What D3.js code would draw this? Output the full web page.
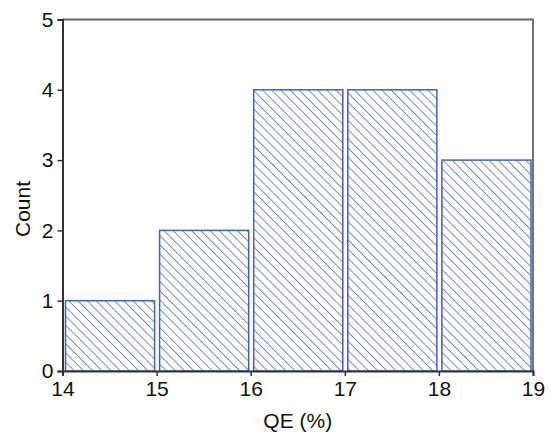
<!DOCTYPE html>
<html>
<head>
<meta charset="utf-8">
<script src="https://cdn.jsdelivr.net/npm/d3@7"></script>
<style>
  body { margin: 0; background: #fff; }
  text { font-family: Arial, "Liberation Sans", sans-serif; }
</style>
</head>
<body>
<div id="chart"></div>
<script>
// histogram bins (QE %) and counts
const binStarts = [14, 15, 16, 17, 18];
const binEnds = [15, 16, 17, 18, 19];
const counts = [1, 2, 4, 4, 3];
const xTicks = [14, 15, 16, 17, 18, 19];
const yTicks = [0, 1, 2, 3, 4, 5];

const margin = {top: 19.5, right: 18, bottom: 62, left: 62.5};
const width = 551 - margin.left - margin.right;
const height = 433 - margin.top - margin.bottom;

const svg = d3.select("#chart")
    .append("svg")
    .attr("width", 551)
    .attr("height", 433);

// diagonal hatch like the original
svg.append("defs").append("pattern")
    .attr("id", "hatch")
    .attr("patternUnits", "userSpaceOnUse")
    .attr("width", 6.5)
    .attr("height", 6.5)
    .attr("patternTransform", "rotate(-45)")
    .append("line")
    .attr("x1", 0.5).attr("y1", 0)
    .attr("x2", 0.5).attr("y2", 6.5)
    .attr("stroke", "#5a76d2")
    .attr("stroke-width", 0.85);

const g = svg.append("g")
    .attr("transform", `translate(${margin.left},${margin.top})`);

const x = d3.scaleLinear().domain([14, 19]).range([0, width]);
const y = d3.scaleLinear().domain([0, 5]).range([height, 0]);

// frame (top and right)
g.append("path")
    .attr("d", `M0,0H${width}V${height}`)
    .attr("fill", "none")
    .attr("stroke", "#666")
    .attr("stroke-width", 1.8);

const bins = counts.map((c, i) => ({x0: binStarts[i], x1: binEnds[i], count: c}));

g.selectAll(".bar")
    .data(bins)
    .enter()
    .append("rect")
    .attr("class", "bar")
    .attr("x", d => x(d.x0) + 3)
    .attr("y", d => y(d.count))
    .attr("width", d => x(d.x1) - x(d.x0) - 5)
    .attr("height", d => y(0) - y(d.count))
    .attr("fill", "url(#hatch)")
    .attr("stroke", "#3f5fc8")
    .attr("stroke-width", 1.5);

const xAxis = g.append("g")
    .attr("transform", `translate(0,${height})`)
    .call(d3.axisBottom(x).tickValues(xTicks).tickFormat(d3.format("d"))
        .tickSizeOuter(0).tickSize(5).tickPadding(5));

const yAxis = g.append("g")
    .call(d3.axisLeft(y).tickValues(yTicks).tickFormat(d3.format("d"))
        .tickSizeOuter(0).tickSize(5).tickPadding(4));

[xAxis, yAxis].forEach(a => {
    a.select(".domain").attr("stroke", "#333").attr("stroke-width", 2);
    a.selectAll(".tick line").attr("stroke", "#333").attr("stroke-width", 1.5);
    a.selectAll(".tick text")
        .style("font-size", "21px")
        .style("font-family", "Arial, 'Liberation Sans', sans-serif")
        .attr("fill", "#111");
});

svg.append("text")
    .attr("x", margin.left + width / 2)
    .attr("y", 428)
    .attr("text-anchor", "middle")
    .style("font-size", "21px")
    .attr("fill", "#111")
    .text("QE (%)");

svg.append("text")
    .attr("transform", `translate(30,209) rotate(-90)`)
    .attr("text-anchor", "middle")
    .style("font-size", "21px")
    .attr("fill", "#111")
    .text("Count");
</script>
</body>
</html>
